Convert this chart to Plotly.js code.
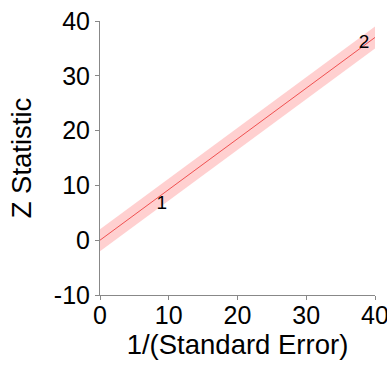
<!DOCTYPE html>
<html><head><meta charset="utf-8">
<script src="https://cdn.plot.ly/plotly-3.0.1.min.js"></script>
<style>html,body{margin:0;padding:0;background:#fff;overflow:hidden}</style>
</head><body><div id="chart" style="width:387px;height:370px"></div>
<script>
// Galbraith plot data
var studyLabels = ["1", "2"];
var precision = [9.0, 38.4];      // 1/(Standard Error)
var zStat = [6.6, 35.9];          // Z statistic
var pooledSlope = 0.925;          // regression line through origin
var bandHalfWidth = 2;            // ±2 band
var lineX = [0, 40];
var xTickVals = [0, 10, 20, 30, 40];
var yTickVals = [-10, 0, 10, 20, 30, 40];
var yTickText = ["-10", "0", "10", "20", "30", "40"];

var lineY = lineX.map(function(x){return pooledSlope*x;});
var upperY = lineX.map(function(x){return pooledSlope*x + bandHalfWidth;});
var lowerY = lineX.map(function(x){return pooledSlope*x - bandHalfWidth;});

var traces = [
  {x: lineX, y: lowerY, mode: 'lines', line: {width: 0}, hoverinfo: 'skip', showlegend: false},
  {x: lineX, y: upperY, mode: 'lines', line: {width: 0}, fill: 'tonexty',
   fillcolor: 'rgba(255,120,120,0.35)', hoverinfo: 'skip', showlegend: false},
  {x: lineX, y: lineY, mode: 'lines', line: {color: '#f05050', width: 1}, showlegend: false},
  {x: precision, y: zStat, mode: 'text', text: studyLabels,
   textfont: {family: 'Liberation Sans, Arial, sans-serif', size: 19, color: '#000'}, showlegend: false}
];

var fam = 'Liberation Sans, Arial, sans-serif';
var axisFont = {family: fam, size: 25, color: '#000'};
var titleFont = {family: fam, size: 27.5, color: '#000'};
var layout = {
  width: 387, height: 370,
  margin: {l: 100, r: 12, t: 21, b: 75},
  paper_bgcolor: '#fff', plot_bgcolor: '#fff',
  showlegend: false,
  xaxis: {
    range: [0, 40], tickvals: xTickVals,
    showgrid: false, zeroline: false,
    showline: true, linecolor: '#888', linewidth: 1,
    ticks: 'outside', ticklen: 4, tickcolor: '#888',
    tickfont: axisFont, ticklabeloverflow: 'allow', ticklabelstandoff: -6,
    title: {text: '1/(Standard Error)', font: titleFont, standoff: 0}
  },
  yaxis: {
    range: [-10, 40], tickvals: yTickVals, ticktext: yTickText,
    showgrid: false, zeroline: false,
    showline: true, linecolor: '#888', linewidth: 1,
    ticks: 'outside', ticklen: 4, tickcolor: '#888',
    tickfont: axisFont, ticklabeloverflow: 'allow',
    title: {text: 'Z Statistic', font: titleFont, standoff: 14}
  }
};
Plotly.newPlot('chart', traces, layout, {staticPlot: true, displayModeBar: false});
</script></body></html>
